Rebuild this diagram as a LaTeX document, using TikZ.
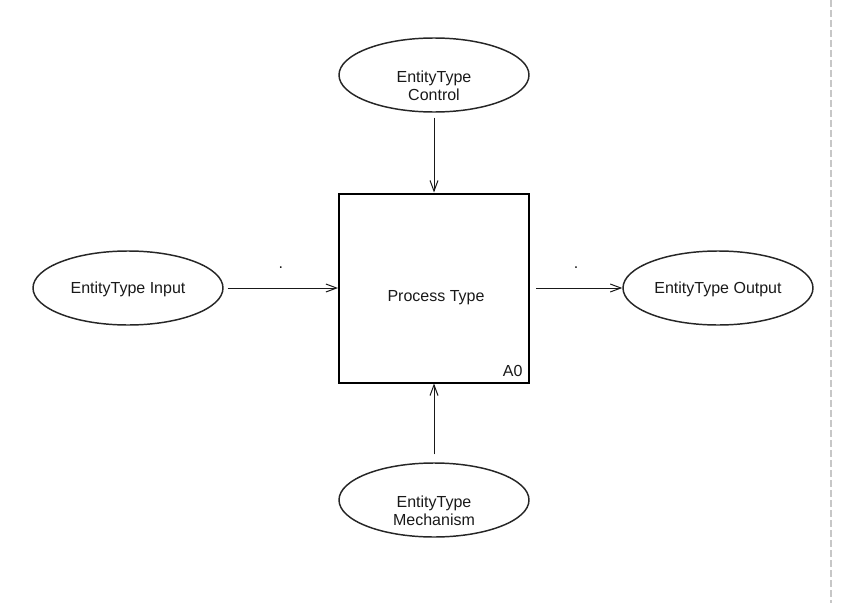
\documentclass[tikz,border=0pt]{standalone}
\usepackage{fontspec}
\setmainfont{Liberation Sans}
\usetikzlibrary{arrows.meta,shapes.geometric}
\tikzset{every picture/.style={line width=0.75pt}}
\tikzset{
  entity/.style={draw=black!85, line width=1.1pt, ellipse, minimum width=142.5pt, minimum height=55.5pt, inner sep=0pt},
  process/.style={draw=black, line width=1.5pt, minimum width=142.5pt, minimum height=141.75pt, inner sep=0pt},
  flow/.style={-{Straight Barb[length=8pt,width=6pt]}, line width=0.75pt, draw=black!90},
  lbl/.style={font=\fontsize{12}{13.5}\selectfont, text=black!90, align=center, inner sep=0pt},
  sepline/.style={draw=black!22, line width=0.9pt, dash pattern=on 5pt off 2.5pt},
}

\begin{document}
\begin{tikzpicture}[x=0.75pt,y=0.75pt,yscale=-1,xscale=1]
		\useasboundingbox (0,0) rectangle (846,603);
		
		%Shape: Box [id:process]
		\node[process] (box) at (434,288) {};
		
		%Shape: Ellipses [id:entities]
		\node[entity] (ctrl) at (434,75) {};
		\node[entity] (in) at (128,288) {};
		\node[entity] (out) at (718,288) {};
		\node[entity] (mech) at (434,500) {};
		
		% Text Node
		\node[lbl] (ctrltxt) at (434,86) {EntityType\\Control};
		% Text Node
		\node[lbl] (intxt) at (128,289) {EntityType Input};
		% Text Node
		\node[lbl] (outtxt) at (718,289) {EntityType Output};
		% Text Node
		\node[lbl] (mechtxt) at (434,511) {EntityType\\Mechanism};
		% Text Node
		\node[lbl] (boxtxt) at (436,298) {Process Type};
		% Text Node
		\node[lbl, anchor=base east] (boxnum) at (523,376) {A0};
		
		%Straight Lines [id:arrows]
		\draw[flow, shorten <=3.75pt] (ctrl) -- (box);
		\draw[flow, shorten <=3pt] (in) -- (box) node[midway, above=14pt, lbl] (indot) {.};
		\draw[flow, shorten <=4.5pt] (box) -- (out) node[midway, above=14pt, lbl] (outdot) {.};
		\draw[flow, shorten <=6pt] (mech) -- (box);
		
		%Straight Lines [id:separator]
		\draw[sepline] (831,0) -- (831,603);
		
\end{tikzpicture}
\end{document}
